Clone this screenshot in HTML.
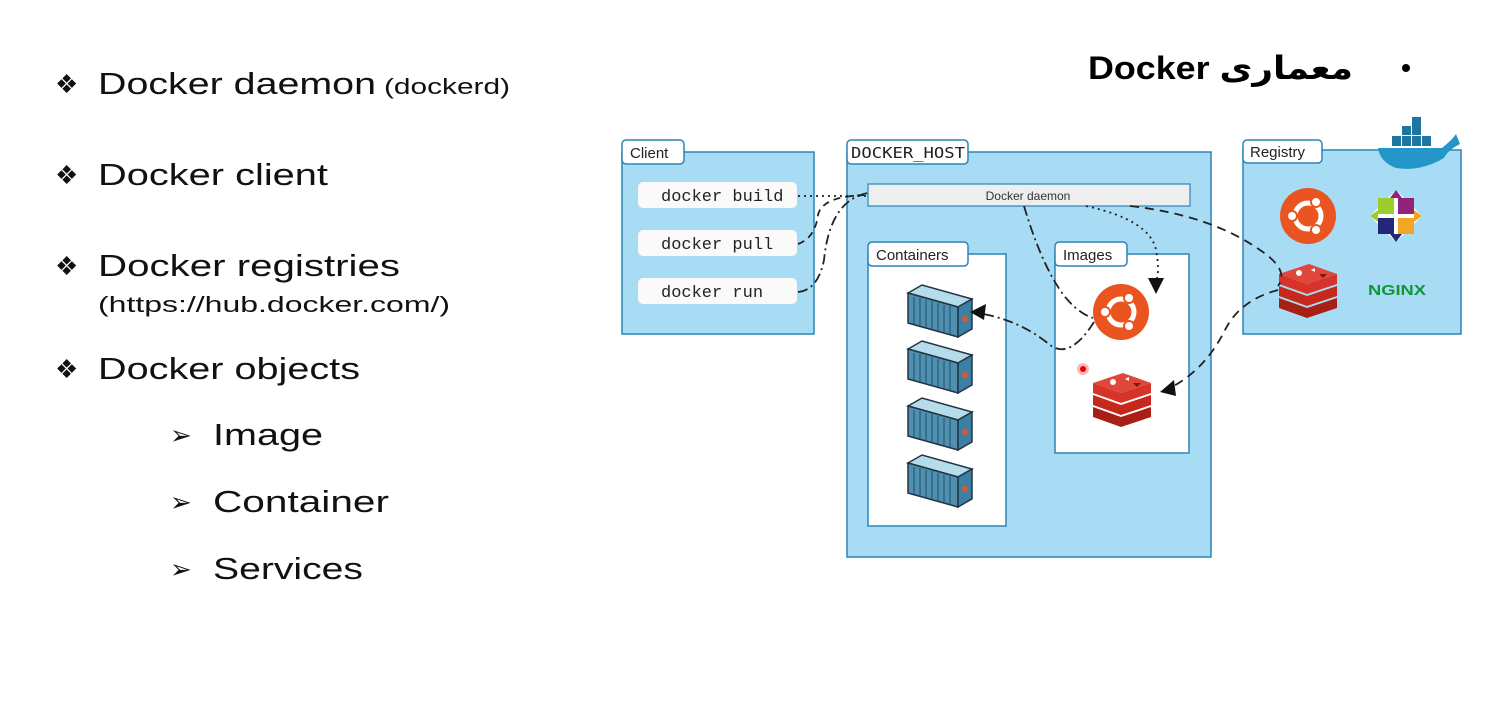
<!DOCTYPE html>
<html><head><meta charset="utf-8"><style>
html,body{margin:0;padding:0;background:#fff;}
svg{display:block;}
</style></head><body>
<svg width="1508" height="704" viewBox="0 0 1508 704" xmlns="http://www.w3.org/2000/svg" font-family="Liberation Sans, sans-serif">
<rect width="1508" height="704" fill="#fff"/>
<!-- left text -->
<g fill="#111">
<text x="55" y="93" font-size="26">❖</text>
<text x="98" y="94" font-size="31" textLength="278" lengthAdjust="spacingAndGlyphs">Docker daemon</text>
<text x="384" y="94" font-size="22" textLength="126" lengthAdjust="spacingAndGlyphs">(dockerd)</text>
<text x="55" y="184" font-size="26">❖</text>
<text x="98" y="185" font-size="31" textLength="230" lengthAdjust="spacingAndGlyphs">Docker client</text>
<text x="55" y="275" font-size="26">❖</text>
<text x="98" y="276" font-size="31" textLength="302" lengthAdjust="spacingAndGlyphs">Docker registries</text>
<text x="98" y="312" font-size="22" textLength="352" lengthAdjust="spacingAndGlyphs">(https://hub.docker.com/)</text>
<text x="55" y="378" font-size="26">❖</text>
<text x="98" y="379" font-size="31" textLength="262" lengthAdjust="spacingAndGlyphs">Docker objects</text>
<text x="170" y="444" font-size="26">➢</text>
<text x="213" y="445" font-size="31" textLength="110" lengthAdjust="spacingAndGlyphs">Image</text>
<text x="170" y="511" font-size="26">➢</text>
<text x="213" y="512" font-size="31" textLength="176" lengthAdjust="spacingAndGlyphs">Container</text>
<text x="170" y="578" font-size="26">➢</text>
<text x="213" y="579" font-size="31" textLength="150" lengthAdjust="spacingAndGlyphs">Services</text>
</g>
<!-- title -->
<text x="1088" y="79" font-size="32" font-weight="bold" fill="#000" font-family="Liberation Sans, DejaVu Sans, sans-serif" textLength="265" lengthAdjust="spacingAndGlyphs">Docker معماری</text>
<circle cx="1406" cy="68" r="4" fill="#000"/>

<!-- Client -->
<rect x="622" y="152" width="192" height="182" fill="#a8dcf5" stroke="#2a85b5" stroke-width="1.5"/>
<rect x="622" y="140" width="62" height="24" rx="4" fill="#fff" stroke="#2a85b5" stroke-width="1.5"/>
<text x="630" y="158" font-size="15" fill="#222">Client</text>
<g font-family="Liberation Mono, monospace" font-size="17" fill="#222">
<rect x="638" y="182" width="159" height="26" rx="5" fill="#fafafa"/>
<text x="661" y="201">docker build</text>
<rect x="638" y="230" width="159" height="26" rx="5" fill="#fafafa"/>
<text x="661" y="249">docker pull</text>
<rect x="638" y="278" width="159" height="26" rx="5" fill="#fafafa"/>
<text x="661" y="297">docker run</text>
</g>

<!-- Docker host -->
<rect x="847" y="152" width="364" height="405" fill="#a8dcf5" stroke="#2a85b5" stroke-width="1.5"/>
<rect x="847" y="140" width="121" height="24" rx="4" fill="#fff" stroke="#2a85b5" stroke-width="1.5"/>
<text x="851" y="158" font-size="15" font-family="DejaVu Sans Mono, monospace" fill="#222" textLength="114" lengthAdjust="spacingAndGlyphs">DOCKER_HOST</text>
<rect x="868" y="184" width="322" height="22" fill="#eee" stroke="#2a85b5" stroke-width="1.2"/>
<text x="1028" y="200" font-size="12" fill="#333" text-anchor="middle">Docker daemon</text>

<rect x="868" y="254" width="138" height="272" fill="#fff" stroke="#2a85b5" stroke-width="1.5"/>
<rect x="868" y="242" width="100" height="24" rx="4" fill="#fff" stroke="#2a85b5" stroke-width="1.5"/>
<text x="876" y="260" font-size="15" fill="#222">Containers</text>
<rect x="1055" y="254" width="134" height="199" fill="#fff" stroke="#2a85b5" stroke-width="1.5"/>
<rect x="1055" y="242" width="72" height="24" rx="4" fill="#fff" stroke="#2a85b5" stroke-width="1.5"/>
<text x="1063" y="260" font-size="15" fill="#222">Images</text>

<!-- containers icons -->
<defs>
<g id="ct">
<polygon points="0,8 14,0 64,14 50,22" fill="#b5dcea" stroke="#234" stroke-width="1.5"/>
<polygon points="0,8 50,22 50,52 0,38" fill="#4f8fb0" stroke="#234" stroke-width="1.5"/>
<polygon points="50,22 64,14 64,44 50,52" fill="#3b7fa3" stroke="#234" stroke-width="1.5"/>
<g stroke="#1f4f6a" stroke-width="1"><line x1="6" y1="12" x2="6" y2="39"/><line x1="12" y1="13" x2="12" y2="41"/><line x1="18" y1="15" x2="18" y2="43"/><line x1="24" y1="16" x2="24" y2="45"/><line x1="30" y1="18" x2="30" y2="46"/><line x1="36" y1="20" x2="36" y2="48"/><line x1="42" y1="21" x2="42" y2="49"/></g>
<circle cx="57" cy="34" r="3" fill="#e2542a"/>
</g>
<g id="redis">
<path d="M0,34 L28,44 L58,34 L58,44 L28,54 L0,44Z" fill="#a81f15"/>
<path d="M0,22 L28,32 L58,22 L58,32 L28,42 L0,32Z" fill="#c7281c"/>
<path d="M0,10 L28,20 L58,10 L58,20 L28,30 L0,20Z" fill="#d6332a"/>
<path d="M0,10 L30,0 L58,10 L28,20Z" fill="#e0463a"/>
<circle cx="20" cy="9" r="3" fill="#fff"/><path d="M32,6 l4,-2 l0,4z" fill="#fff"/><path d="M40,10 l8,0 l-4,4z" fill="#7a1510"/>
</g>
<g id="ubu">
<circle r="28" fill="#e95420"/>
<circle r="13" fill="none" stroke="#fff" stroke-width="5"/>
<circle cx="-16" cy="0" r="5" fill="#fff" stroke="#e95420" stroke-width="2"/>
<circle cx="8" cy="-14" r="5" fill="#fff" stroke="#e95420" stroke-width="2"/>
<circle cx="8" cy="14" r="5" fill="#fff" stroke="#e95420" stroke-width="2"/>
</g>
</defs>
<use href="#ct" x="908" y="285"/>
<use href="#ct" x="908" y="341"/>
<use href="#ct" x="908" y="398"/>
<use href="#ct" x="908" y="455"/>
<use href="#ubu" x="1121" y="312"/>
<use href="#redis" x="1093" y="373"/>
<circle cx="1083" cy="369" r="6" fill="#ff8888" opacity="0.6"/><circle cx="1083" cy="369" r="3" fill="#e00"/>

<!-- Registry -->
<rect x="1243" y="150" width="218" height="184" fill="#a8dcf5" stroke="#2a85b5" stroke-width="1.5"/>
<rect x="1243" y="140" width="79" height="23" rx="4" fill="#fff" stroke="#2a85b5" stroke-width="1.5"/>
<text x="1250" y="157" font-size="15" fill="#222">Registry</text>
<!-- whale -->
<g>
<path d="M1378,148 L1442,148 Q1452,140 1456,134 L1460,144 Q1448,150 1444,158 Q1420,172 1396,168 Q1380,162 1378,148Z" fill="#2496c8"/>
<g fill="#1d75a0"><rect x="1392" y="136" width="9" height="10"/><rect x="1402" y="136" width="9" height="10"/><rect x="1412" y="136" width="9" height="10"/><rect x="1422" y="136" width="9" height="10"/><rect x="1402" y="126" width="9" height="9"/><rect x="1412" y="126" width="9" height="9"/><rect x="1412" y="117" width="9" height="9"/></g>
</g>
<use href="#ubu" x="1308" y="216"/>
<g transform="translate(1396,216)">
<polygon points="0,-26 26,0 0,26 -26,0" fill="#fff"/>
<polygon points="-18,-18 -2,-18 -2,-2 -18,-2" fill="#9ccd2a"/>
<polygon points="2,-18 18,-18 18,-2 2,-2" fill="#932279"/>
<polygon points="2,2 18,2 18,18 2,18" fill="#efa724"/>
<polygon points="-18,2 -2,2 -2,18 -18,18" fill="#262577"/>
<polygon points="0,-26 -6,-18 6,-18" fill="#932279"/><polygon points="26,0 18,-6 18,6" fill="#efa724"/><polygon points="0,26 -6,18 6,18" fill="#262577"/><polygon points="-26,0 -18,-6 -18,6" fill="#9ccd2a"/>
</g>
<use href="#redis" x="1279" y="264"/>
<text x="1368" y="295" font-size="15" font-weight="bold" fill="#119639" textLength="58" lengthAdjust="spacingAndGlyphs">NGINX</text>

<!-- connectors -->
<g fill="none" stroke="#222" stroke-width="1.8">
<path d="M798,196 L866,196" stroke-dasharray="2,4"/>
<path d="M798,244 Q815,238 818,215 Q822,196 866,195" stroke-dasharray="7,5"/>
<path d="M798,292 Q818,290 824,260 Q830,200 868,193" stroke-dasharray="10,4,2,4"/>
<path d="M1086,206 Q1150,220 1156,250 Q1160,270 1156,282" stroke-dasharray="2,4"/>
<path d="M1130,206 Q1210,215 1260,250 Q1290,270 1278,286" stroke-dasharray="9,6"/>
<path d="M1278,290 Q1240,300 1225,330 Q1205,370 1170,388" stroke-dasharray="9,6"/>
<path d="M1024,206 Q1040,260 1060,290 Q1075,312 1093,318" stroke-dasharray="10,4,2,4"/>
<path d="M1094,322 Q1070,360 1050,345 Q1020,320 978,313" stroke-dasharray="10,4,2,4"/>
</g>
<g fill="#111">
<polygon points="1156,294 1148,278 1164,278"/>
<polygon points="970,312 986,304 984,320"/>
<polygon points="1160,392 1174,380 1176,396"/>
</g>
</svg>
</body></html>
